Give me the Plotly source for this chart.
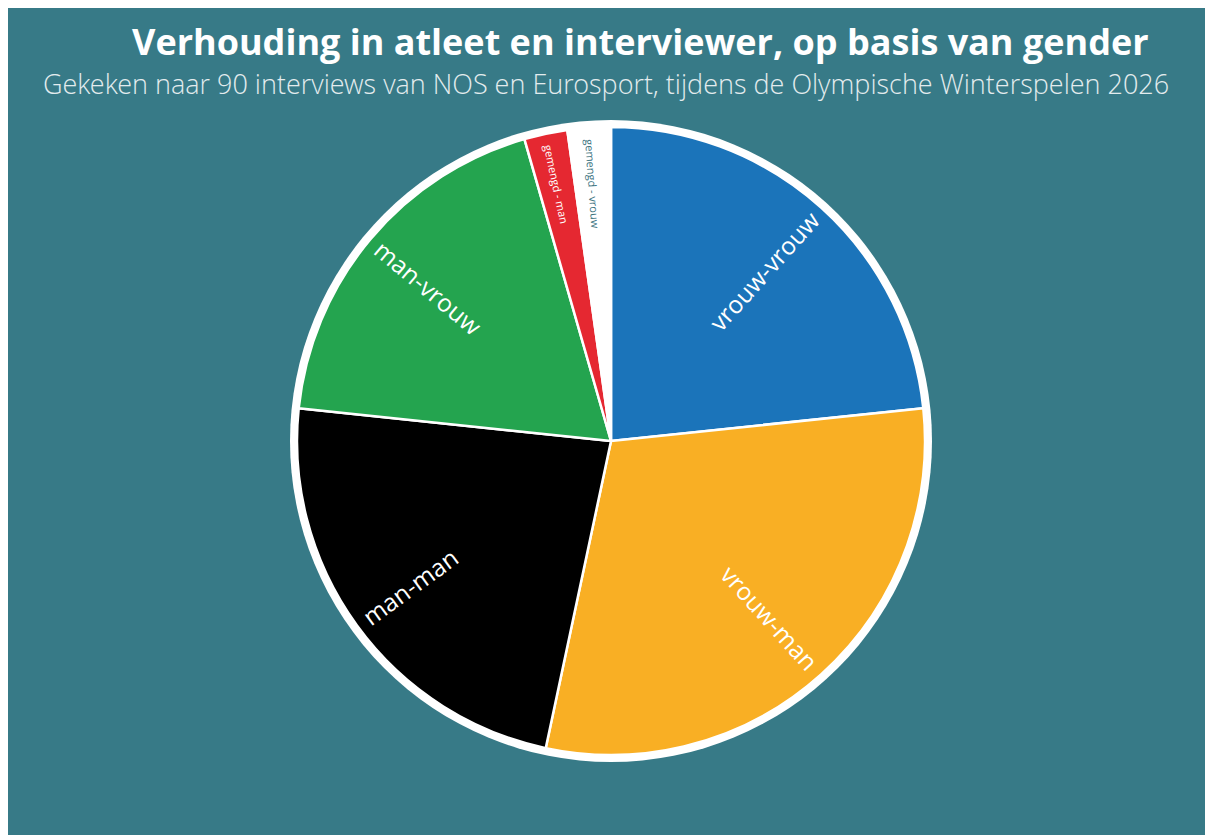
import math
import plotly.graph_objects as go

W, H = 1213, 835

labels = ["vrouw-vrouw", "vrouw-man", "man-man", "man-vrouw", "gemengd - man", "gemengd - vrouw"]
values = [21, 27, 21, 17, 2, 2]
colors = ["#1B74BA", "#F9AF24", "#000000", "#24A44F", "#E52831", "#FFFFFF"]
text_colors = ["#FFFFFF", "#FFFFFF", "#FFFFFF", "#FFFFFF", "#FFFFFF", "#3C7380"]
text_sizes = [24.5, 24.5, 24.5, 24.5, 11, 11]
label_r = [0.73, 0.755, 0.79, 0.76, 0.835, 0.82]  # radial position of each label (fraction of radius)

title = "Verhouding in atleet en interviewer, op basis van gender"
subtitle = "Gekeken naar 90 interviews van NOS en Eurosport, tijdens de Olympische Winterspelen 2026"

BG = "#377A87"
FONT = "Open Sans"

# page body has an 8px margin; figure coordinates below are relative to the figure
cx, cy, r_in, r_out = 603, 433, 314, 321

def dom(r):
    return dict(x=[(cx - r) / W, (cx + r) / W], y=[1 - (cy + r) / H, 1 - (cy - r) / H])

fig = go.Figure()
# white outer ring (disc behind the pie)
fig.add_trace(go.Pie(
    values=[1], labels=["ring"], marker=dict(colors=["#FFFFFF"], line=dict(width=0)),
    textinfo="none", hoverinfo="skip", showlegend=False, sort=False, domain=dom(r_out),
))
fig.add_trace(go.Pie(
    labels=labels, values=values, sort=False, direction="clockwise", rotation=0,
    marker=dict(colors=colors, line=dict(color="#FFFFFF", width=2.5)),
    textinfo="none", showlegend=False, domain=dom(r_in),
))

# radial slice labels, placed from the cumulative values
total = sum(values)
cum = 0
for lab, v, col, sz, rf in zip(labels, values, text_colors, text_sizes, label_r):
    mid = (cum + v / 2) / total * 360
    cum += v
    t = math.radians(mid)
    fx = cx + rf * r_in * math.sin(t)
    fy = cy - rf * r_in * math.cos(t)
    ang = mid - 90 if mid < 180 else mid - 270
    fig.add_annotation(text=lab, x=fx / W, y=1 - fy / H, xref="paper", yref="paper",
                       showarrow=False, xanchor="center", yanchor="middle", textangle=ang,
                       font=dict(family=FONT, size=sz, color=col))

fig.add_annotation(text=f"<b>{title}</b>", x=632 / W, y=1 - 34 / H, xref="paper", yref="paper",
                   showarrow=False, xanchor="center", yanchor="middle",
                   font=dict(family=FONT, size=36, color="#FFFFFF"))
fig.add_annotation(text=subtitle, x=598 / W, y=1 - 76 / H, xref="paper", yref="paper",
                   showarrow=False, xanchor="center", yanchor="middle",
                   font=dict(family="Open Sans Light, Lato Light, Open Sans", size=27,
                             color="#E3ECEE", weight=300))

fig.update_layout(
    width=W, height=H, paper_bgcolor=BG, plot_bgcolor=BG,
    margin=dict(l=0, r=0, t=0, b=0), showlegend=False,
)

fig.write_html("out.html")
